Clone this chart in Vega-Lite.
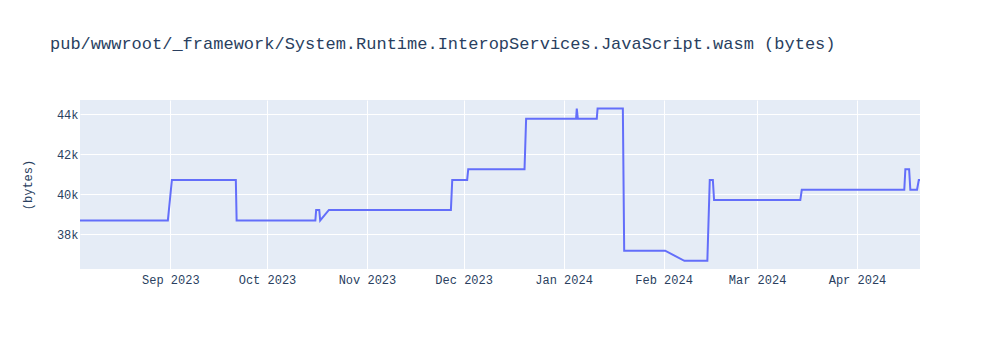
{
  "$schema": "https://vega.github.io/schema/vega-lite/v6.json",
  "width": 840,
  "height": 169,
  "autosize": {"type": "none"},
  "padding": {"left": 80, "top": 100, "right": 80, "bottom": 81},
  "background": "white",
  "title": {
    "text": "pub/wwwroot/_framework/System.Runtime.InteropServices.JavaScript.wasm (bytes)",
    "anchor": "start",
    "frame": "group",
    "dx": -30,
    "offset": 47,
    "baseline": "top",
    "font": "Courier New, Nimbus Mono PS, FreeMono, Liberation Mono",
    "fontSize": 17,
    "fontWeight": "normal",
    "color": "#2a3f5f"
  },
  "config": {
    "view": {"fill": "#E5ECF6", "stroke": null},
    "axis": {
      "labelFont": "Courier New, Nimbus Mono PS, FreeMono, Liberation Mono",
      "labelFontSize": 12,
      "labelColor": "#2a3f5f",
      "titleFont": "Courier New, Nimbus Mono PS, FreeMono, Liberation Mono",
      "titleFontSize": 12,
      "titleFontWeight": "normal",
      "titleColor": "#2a3f5f",
      "gridColor": "white",
      "gridWidth": 1,
      "gridOpacity": 1,
      "domain": false,
      "ticks": false
    }
  },
  "data": {
    "values": [
      {"date": "2023-08-04T00:00:00", "bytes": 38680},
      {"date": "2023-08-31T06:00:00", "bytes": 38680},
      {"date": "2023-09-01T12:00:00", "bytes": 40710},
      {"date": "2023-09-21T08:00:00", "bytes": 40710},
      {"date": "2023-09-21T14:00:00", "bytes": 38680},
      {"date": "2023-10-16T00:00:00", "bytes": 38680},
      {"date": "2023-10-16T06:00:00", "bytes": 39210},
      {"date": "2023-10-17T05:00:00", "bytes": 39210},
      {"date": "2023-10-17T12:00:00", "bytes": 38680},
      {"date": "2023-10-20T05:00:00", "bytes": 39210},
      {"date": "2023-11-27T01:00:00", "bytes": 39210},
      {"date": "2023-11-27T11:00:00", "bytes": 40710},
      {"date": "2023-12-02T02:00:00", "bytes": 40710},
      {"date": "2023-12-02T10:00:00", "bytes": 41250},
      {"date": "2023-12-19T21:00:00", "bytes": 41250},
      {"date": "2023-12-20T09:00:00", "bytes": 43780},
      {"date": "2024-01-04T21:00:00", "bytes": 43780},
      {"date": "2024-01-05T02:00:00", "bytes": 44290},
      {"date": "2024-01-05T10:00:00", "bytes": 43780},
      {"date": "2024-01-11T07:00:00", "bytes": 43780},
      {"date": "2024-01-11T13:00:00", "bytes": 44290},
      {"date": "2024-01-19T09:00:00", "bytes": 44290},
      {"date": "2024-01-19T19:00:00", "bytes": 37165},
      {"date": "2024-02-01T12:00:00", "bytes": 37165},
      {"date": "2024-02-07T11:00:00", "bytes": 36660},
      {"date": "2024-02-14T14:00:00", "bytes": 36660},
      {"date": "2024-02-15T08:00:00", "bytes": 40710},
      {"date": "2024-02-16T07:00:00", "bytes": 40710},
      {"date": "2024-02-16T16:00:00", "bytes": 39700},
      {"date": "2024-03-14T10:00:00", "bytes": 39700},
      {"date": "2024-03-14T21:00:00", "bytes": 40220},
      {"date": "2024-04-15T16:00:00", "bytes": 40220},
      {"date": "2024-04-16T00:00:00", "bytes": 41250},
      {"date": "2024-04-17T04:00:00", "bytes": 41250},
      {"date": "2024-04-17T13:00:00", "bytes": 40220},
      {"date": "2024-04-19T15:00:00", "bytes": 40220},
      {"date": "2024-04-20T04:00:00", "bytes": 40710},
      {"date": "2024-04-20T13:00:00", "bytes": 40710}
    ]
  },
  "mark": {"type": "line", "color": "#636EFA", "strokeWidth": 2, "clip": true},
  "encoding": {
    "x": {
      "field": "date",
      "type": "temporal",
      "title": null,
      "scale": {"domain": ["2023-08-04T00:00:00", "2024-04-20T13:00:00"], "nice": false},
      "axis": {
        "format": "%b %Y",
        "tickCount": {"interval": "month", "step": 1},
        "labelPadding": 5,
        "labelFlush": false,
        "labelOverlap": false
      }
    },
    "y": {
      "field": "bytes",
      "type": "quantitative",
      "title": "(bytes)",
      "scale": {"domain": [36250, 44715], "nice": false, "zero": false},
      "axis": {
        "values": [38000, 40000, 42000, 44000],
        "format": "~s",
        "labelPadding": 2,
        "titlePadding": 22
      }
    }
  }
}
